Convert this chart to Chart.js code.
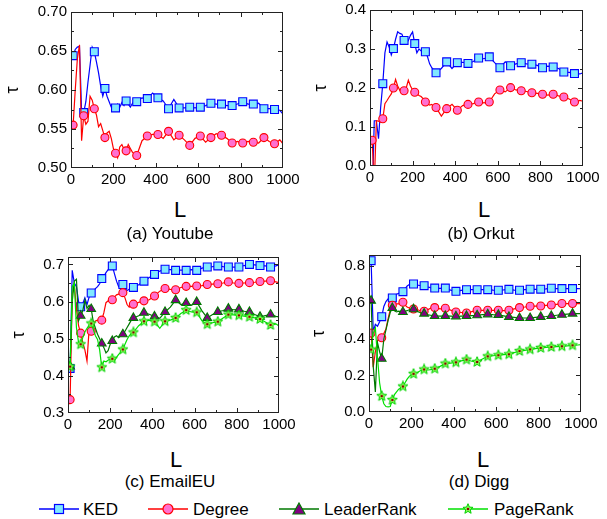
<!DOCTYPE html>
<html>
<head>
<meta charset="utf-8">
<script src="https://cdn.jsdelivr.net/npm/chart.js@4.4.1/dist/chart.umd.min.js"></script>
<style>
  body { margin: 0; background: #fff; width: 607px; height: 519px; position: relative; overflow: hidden;
         font-family: "Liberation Sans", Arial, sans-serif; color: #000; }
  canvas.panel { position: absolute; }
  .lbl { position: absolute; transform: translateX(-50%); white-space: nowrap; }
  .axL { font-size: 22px; line-height: 22px; }
  .cap { font-size: 17px; line-height: 17px; }
  .leg { position: absolute; font-size: 17px; line-height: 17px; top: 501px; white-space: nowrap; }
  canvas.legmark { position: absolute; top: 502px; }
</style>
</head>
<body>
<canvas id="chartA" class="panel" width="300" height="195" style="left:0;top:0"></canvas>
<canvas id="chartB" class="panel" width="307" height="193" style="left:300px;top:0"></canvas>
<canvas id="chartC" class="panel" width="300" height="200" style="left:0;top:240px"></canvas>
<canvas id="chartD" class="panel" width="307" height="199" style="left:300px;top:240px"></canvas>

<div class="lbl axL" style="left:180px;top:199px">L</div>
<div class="lbl cap" style="left:170px;top:225px">(a) Youtube</div>
<div class="lbl axL" style="left:484px;top:199px">L</div>
<div class="lbl cap" style="left:481px;top:225px">(b) Orkut</div>
<div class="lbl axL" style="left:176px;top:449px">L</div>
<div class="lbl cap" style="left:170px;top:473px">(c) EmailEU</div>
<div class="lbl axL" style="left:483px;top:449px">L</div>
<div class="lbl cap" style="left:479px;top:473px">(d) Digg</div>

<div id="legend"></div>

<script>
(function () {
    // L values (x axis), markers every 50 starting at 10
    const L = [10, 20, 30, 40, 50, 60, 70, 80, 90, 100,
               110, 120, 130, 140, 150, 160, 170, 180, 190, 200,
               210, 220, 230, 240, 250, 260, 270, 280, 290, 300,
               310, 335, 360, 385, 410, 435, 460, 485, 510, 535,
               560, 585, 610, 635, 660, 685, 710, 735, 760, 785,
               810, 835, 860, 885, 910, 935, 960, 985, 1000];

    const xTicks = [0, 200, 400, 600, 800, 1000];

    // (a) Youtube
    const youtubeKED = [0.644, 0.652, 0.655, 0.656, 0.572, 0.571, 0.585, 0.610, 0.632, 0.655,
                        0.649, 0.636, 0.622, 0.605, 0.592, 0.602, 0.592, 0.585, 0.578, 0.578,
                        0.577, 0.582, 0.578, 0.584, 0.580, 0.586, 0.582, 0.578, 0.583, 0.586,
                        0.585, 0.590, 0.589, 0.596, 0.590, 0.586, 0.576, 0.588, 0.577, 0.577,
                        0.578, 0.577, 0.578, 0.580, 0.583, 0.582, 0.582, 0.580, 0.580, 0.582,
                        0.585, 0.582, 0.582, 0.583, 0.576, 0.576, 0.575, 0.574, 0.569];
    const youtubeDegree = [0.555, 0.600, 0.640, 0.658, 0.535, 0.567, 0.556, 0.560, 0.592, 0.587,
                           0.576, 0.568, 0.553, 0.557, 0.548, 0.539, 0.545, 0.547, 0.538, 0.525,
                           0.519, 0.513, 0.527, 0.530, 0.524, 0.522, 0.530, 0.525, 0.520, 0.518,
                           0.516, 0.535, 0.541, 0.543, 0.543, 0.538, 0.547, 0.536, 0.542, 0.536,
                           0.529, 0.538, 0.541, 0.533, 0.539, 0.544, 0.542, 0.538, 0.532, 0.534,
                           0.532, 0.534, 0.533, 0.532, 0.539, 0.534, 0.531, 0.536, 0.531];
    const youtubeTicks = [0.50, 0.55, 0.60, 0.65, 0.70];

    // (b) Orkut
    const orkutKED = [-0.10, 0.116, 0.116, 0.070, 0.150, 0.211, 0.290, 0.318, 0.305, 0.285,
                      0.301, 0.325, 0.344, 0.340, 0.338, 0.322, 0.315, 0.322, 0.335, 0.344,
                      0.314, 0.290, 0.300, 0.295, 0.296, 0.293, 0.280, 0.262, 0.252, 0.245,
                      0.239, 0.250, 0.267, 0.250, 0.265, 0.266, 0.263, 0.268, 0.277, 0.275,
                      0.280, 0.265, 0.252, 0.267, 0.257, 0.262, 0.265, 0.262, 0.261, 0.258,
                      0.252, 0.256, 0.254, 0.250, 0.241, 0.240, 0.237, 0.236, 0.239];
    const orkutDegree = [0.066, -0.05, 0.116, 0.115, 0.112, 0.121, 0.160, 0.168, 0.177, 0.185,
                         0.200, 0.222, 0.205, 0.194, 0.200, 0.193, 0.200, 0.220, 0.205, 0.195,
                         0.189, 0.186, 0.181, 0.178, 0.172, 0.164, 0.160, 0.156, 0.158, 0.152,
                         0.150, 0.128, 0.147, 0.158, 0.143, 0.155, 0.158, 0.160, 0.164, 0.162,
                         0.164, 0.185, 0.195, 0.190, 0.201, 0.195, 0.193, 0.191, 0.188, 0.186,
                         0.184, 0.182, 0.184, 0.180, 0.177, 0.172, 0.164, 0.168, 0.166];
    const orkutTicks = [0.0, 0.1, 0.2, 0.3, 0.4];

    // (c) EmailEU
    const emailKED = [0.420, 0.684, 0.650, 0.640, 0.600, 0.586, 0.595, 0.610, 0.592, 0.612,
                      0.623, 0.625, 0.635, 0.640, 0.648, 0.662, 0.668, 0.678, 0.686, 0.690,
                      0.696, 0.675, 0.655, 0.640, 0.643, 0.646, 0.635, 0.630, 0.633, 0.636,
                      0.638, 0.645, 0.655, 0.665, 0.673, 0.682, 0.687, 0.686, 0.684, 0.685,
                      0.684, 0.686, 0.684, 0.690, 0.693, 0.694, 0.696, 0.694, 0.693, 0.693,
                      0.693, 0.697, 0.700, 0.699, 0.697, 0.696, 0.693, 0.696, 0.699];
    const emailDegree = [0.336, 0.620, 0.645, 0.580, 0.535, 0.515, 0.490, 0.470, 0.440, 0.525,
                         0.520, 0.540, 0.548, 0.550, 0.548, 0.550, 0.570, 0.597, 0.602, 0.603,
                         0.605, 0.612, 0.618, 0.620, 0.622, 0.624, 0.610, 0.592, 0.585, 0.590,
                         0.593, 0.598, 0.602, 0.605, 0.615, 0.628, 0.635, 0.633, 0.632, 0.638,
                         0.641, 0.641, 0.642, 0.643, 0.646, 0.647, 0.648, 0.650, 0.653, 0.650,
                         0.649, 0.650, 0.651, 0.652, 0.654, 0.655, 0.656, 0.653, 0.651];
    const emailLeader = [0.425, 0.600, 0.655, 0.660, 0.548, 0.562, 0.575, 0.604, 0.582, 0.590,
                         0.580, 0.545, 0.528, 0.512, 0.500, 0.487, 0.476, 0.462, 0.468, 0.485,
                         0.494, 0.505, 0.508, 0.503, 0.508, 0.512, 0.520, 0.530, 0.540, 0.550,
                         0.556, 0.562, 0.570, 0.566, 0.560, 0.555, 0.572, 0.585, 0.604, 0.592,
                         0.596, 0.590, 0.599, 0.575, 0.556, 0.565, 0.572, 0.576, 0.581, 0.578,
                         0.579, 0.574, 0.572, 0.565, 0.559, 0.562, 0.565, 0.560, 0.559];
    const emailPage = [0.425, 0.640, 0.650, 0.530, 0.490, 0.485, 0.503, 0.518, 0.528, 0.535,
                       0.541, 0.525, 0.508, 0.498, 0.470, 0.423, 0.440, 0.438, 0.442, 0.446,
                       0.446, 0.440, 0.450, 0.458, 0.463, 0.471, 0.485, 0.498, 0.508, 0.514,
                       0.517, 0.535, 0.547, 0.550, 0.546, 0.528, 0.547, 0.550, 0.556, 0.568,
                       0.577, 0.572, 0.571, 0.548, 0.539, 0.543, 0.546, 0.556, 0.565, 0.564,
                       0.563, 0.561, 0.559, 0.556, 0.553, 0.545, 0.537, 0.540, 0.534];
    const emailTicks = [0.3, 0.4, 0.5, 0.6, 0.7];

    // (d) Digg
    const diggKED = [0.829, 0.440, 0.480, 0.470, 0.495, 0.522, 0.578, 0.605, 0.620, 0.620,
                     0.625, 0.630, 0.645, 0.650, 0.652, 0.659, 0.675, 0.690, 0.698, 0.700,
                     0.701, 0.698, 0.695, 0.693, 0.692, 0.692, 0.688, 0.684, 0.681, 0.680,
                     0.679, 0.677, 0.679, 0.668, 0.661, 0.666, 0.670, 0.670, 0.670, 0.670,
                     0.670, 0.668, 0.667, 0.669, 0.672, 0.668, 0.667, 0.670, 0.673, 0.672,
                     0.673, 0.674, 0.678, 0.676, 0.676, 0.676, 0.676, 0.676, 0.675];
    const diggDegree = [0.433, 0.245, 0.330, 0.390, 0.400, 0.407, 0.430, 0.455, 0.510, 0.560,
                        0.585, 0.590, 0.592, 0.592, 0.595, 0.601, 0.585, 0.575, 0.570, 0.566,
                        0.564, 0.565, 0.560, 0.555, 0.552, 0.552, 0.558, 0.562, 0.568, 0.570,
                        0.572, 0.565, 0.568, 0.558, 0.548, 0.545, 0.542, 0.550, 0.557, 0.557,
                        0.557, 0.557, 0.557, 0.555, 0.557, 0.565, 0.572, 0.575, 0.579, 0.580,
                        0.581, 0.584, 0.586, 0.590, 0.594, 0.594, 0.594, 0.594, 0.594];
    const diggLeader = [0.610, 0.250, 0.110, 0.380, 0.330, 0.292, 0.400, 0.450, 0.500, 0.545,
                        0.570, 0.555, 0.548, 0.552, 0.550, 0.548, 0.552, 0.555, 0.560, 0.562,
                        0.563, 0.558, 0.550, 0.545, 0.542, 0.539, 0.535, 0.532, 0.530, 0.528,
                        0.526, 0.525, 0.526, 0.525, 0.524, 0.525, 0.526, 0.528, 0.530, 0.533,
                        0.535, 0.533, 0.532, 0.527, 0.521, 0.518, 0.515, 0.515, 0.515, 0.518,
                        0.521, 0.523, 0.526, 0.530, 0.533, 0.536, 0.539, 0.539, 0.539];
    const diggPage = [0.342, 0.430, 0.460, 0.300, 0.160, 0.087, 0.045, 0.030, 0.028, 0.030,
                      0.066, 0.095, 0.110, 0.125, 0.132, 0.140, 0.160, 0.180, 0.195, 0.205,
                      0.209, 0.212, 0.218, 0.225, 0.230, 0.233, 0.230, 0.230, 0.232, 0.235,
                      0.237, 0.250, 0.265, 0.268, 0.272, 0.280, 0.287, 0.278, 0.274, 0.290,
                      0.305, 0.308, 0.311, 0.314, 0.316, 0.325, 0.334, 0.338, 0.343, 0.347,
                      0.351, 0.354, 0.356, 0.358, 0.360, 0.362, 0.365, 0.367, 0.369];
    const diggTicks = [0.0, 0.2, 0.4, 0.6, 0.8];

    // star marker for PageRank (green star with dark red centre)
    function starImage(size) {
        const c = document.createElement('canvas');
        c.width = c.height = size;
        const g = c.getContext('2d');
        const cx = size / 2, cy = size / 2, R = size / 2 - 0.7, r = R * 0.45;
        g.beginPath();
        for (let k = 0; k < 10; k++) {
            const ang = -Math.PI / 2 + k * Math.PI / 5;
            const rr = k % 2 ? r : R;
            g.lineTo(cx + rr * Math.cos(ang), cy + rr * Math.sin(ang));
        }
        g.closePath();
        g.fillStyle = '#8cff5a';
        g.fill();
        g.strokeStyle = '#00d000';
        g.lineWidth = 1;
        g.stroke();
        g.beginPath();
        g.arc(cx, cy, 1.3, 0, 2 * Math.PI);
        g.fillStyle = '#8b0000';
        g.fill();
        return c;
    }
    const star = starImage(12);

    const styles = {
        KED:        { color: '#0000ff', fill: '#80e8ff', shape: 'rect', r: 5.6, order: 3 },
        Degree:     { color: '#ff0000', fill: '#ff70d0', shape: 'circle', r: 4, order: 2 },
        LeaderRank: { color: '#007800', fill: '#800080', shape: 'triangle', r: 5, order: 1 },
        PageRank:   { color: '#00e000', fill: '#8cff5a', shape: star, r: 4, order: 0 }
    };

    const isMarker = (c) => c.raw && c.raw.x % 50 === 10;

    function makeDataset(name, values) {
        const s = styles[name];
        return {
            label: name,
            data: L.map((x, i) => ({ x: x, y: values[i] })),
            borderColor: s.color,
            borderWidth: 1.2,
            backgroundColor: s.fill,
            pointBackgroundColor: s.fill,
            pointBorderColor: s.color,
            pointBorderWidth: 1.1,
            pointStyle: s.shape,
            pointRadius: (c) => isMarker(c) ? s.r : 0,
            tension: 0,
            fill: false,
            order: s.order
        };
    }

    // box frame with inward ticks (major + minor)
    const framePlugin = {
        id: 'frame',
        afterDatasetsDraw(chart) {
            const { ctx, chartArea: a, scales } = chart;
            ctx.save();
            ctx.strokeStyle = '#222';
            ctx.lineWidth = 1;
            ctx.strokeRect(Math.round(a.left) + 0.5, Math.round(a.top) + 0.5,
                Math.round(a.right - a.left) - 1, Math.round(a.bottom - a.top) - 1);
            const marks = (scale) => {
                const vals = scale.ticks.map(t => t.value);
                const out = vals.map(v => ({ v: v, len: 5 }));
                for (let i = 0; i < vals.length - 1; i++) out.push({ v: (vals[i] + vals[i + 1]) / 2, len: 3 });
                return out;
            };
            ctx.beginPath();
            marks(scales.x).forEach(m => {
                const px = Math.round(scales.x.getPixelForValue(m.v)) + 0.5;
                if (px < a.left || px > a.right) return;
                ctx.moveTo(px, a.bottom); ctx.lineTo(px, a.bottom - m.len);
                ctx.moveTo(px, a.top); ctx.lineTo(px, a.top + m.len);
            });
            marks(scales.y).forEach(m => {
                const py = Math.round(scales.y.getPixelForValue(m.v)) + 0.5;
                if (py < a.top || py > a.bottom) return;
                ctx.moveTo(a.left, py); ctx.lineTo(a.left + m.len, py);
                ctx.moveTo(a.right, py); ctx.lineTo(a.right - m.len, py);
            });
            ctx.stroke();
            ctx.restore();
        }
    };

    function makePanel(id, datasets, p) {
        new Chart(document.getElementById(id).getContext('2d'), {
            type: 'line',
            data: { datasets: datasets },
            plugins: [framePlugin],
            options: {
                responsive: false,
                animation: false,
                devicePixelRatio: 1,
                events: [],
                layout: { padding: { left: 0, top: p.top, right: p.right, bottom: 0 } },
                plugins: { legend: { display: false }, tooltip: { enabled: false } },
                scales: {
                    x: {
                        type: 'linear', min: 0, max: 1000,
                        afterBuildTicks: (s) => { s.ticks = xTicks.map(v => ({ value: v })); },
                        afterFit: (s) => { s.height = 27; s.paddingLeft = 0; s.paddingRight = 0; },
                        grid: { display: false, drawTicks: false },
                        border: { display: false },
                        ticks: {
                            color: '#000', padding: 3, maxRotation: 0,
                            font: { family: 'Liberation Sans', size: 15 },
                            callback: (v) => String(v)
                        }
                    },
                    y: {
                        type: 'linear', min: p.min, max: p.max,
                        afterBuildTicks: (s) => { s.ticks = p.ticks.map(v => ({ value: v })); },
                        afterFit: (s) => { s.width = p.yWidth; s.paddingTop = 0; s.paddingBottom = 0; },
                        grid: { display: false, drawTicks: false },
                        border: { display: false },
                        ticks: {
                            color: '#000', padding: 4,
                            font: { family: 'Liberation Sans', size: 15 },
                            callback: (v) => Number(v).toFixed(p.dec)
                        },
                        title: {
                            display: true, text: 'τ', color: '#000',
                            font: { family: 'Liberation Sans', size: 18 },
                            padding: { top: p.titlePad, bottom: 0 }
                        }
                    }
                }
            }
        });
    }

    makePanel('chartA', [makeDataset('KED', youtubeKED), makeDataset('Degree', youtubeDegree)],
        { min: 0.50, max: 0.70, ticks: youtubeTicks, dec: 2, yWidth: 71, top: 12, right: 17, titlePad: 2 });
    makePanel('chartB', [makeDataset('KED', orkutKED), makeDataset('Degree', orkutDegree)],
        { min: 0, max: 0.4, ticks: orkutTicks, dec: 1, yWidth: 70, top: 10, right: 24, titlePad: 10 });
    makePanel('chartC', [makeDataset('KED', emailKED), makeDataset('Degree', emailDegree),
                         makeDataset('LeaderRank', emailLeader), makeDataset('PageRank', emailPage)],
        { min: 0.3, max: 0.72, ticks: emailTicks, dec: 1, yWidth: 68, top: 17, right: 21, titlePad: 8 });
    makePanel('chartD', [makeDataset('KED', diggKED), makeDataset('Degree', diggDegree),
                         makeDataset('LeaderRank', diggLeader), makeDataset('PageRank', diggPage)],
        { min: 0, max: 0.86, ticks: diggTicks, dec: 1, yWidth: 69, top: 15, right: 26, titlePad: 8 });

    // shared legend at the bottom
    const legendItems = [
        { name: 'KED', lineX: 39, textX: 83 },
        { name: 'Degree', lineX: 148, textX: 193 },
        { name: 'LeaderRank', lineX: 279, textX: 324 },
        { name: 'PageRank', lineX: 448, textX: 494 }
    ];
    const legend = document.getElementById('legend');
    legendItems.forEach(item => {
        const s = styles[item.name];
        const c = document.createElement('canvas');
        c.className = 'legmark';
        c.width = 44; c.height = 14;
        c.style.left = (item.lineX - 2) + 'px';
        const g = c.getContext('2d');
        g.strokeStyle = s.color;
        g.lineWidth = 1.5;
        g.beginPath(); g.moveTo(2, 7); g.lineTo(42, 7); g.stroke();
        g.fillStyle = s.fill;
        g.lineWidth = 1.2;
        if (s.shape === 'rect') {
            g.fillRect(17, 2, 10, 10); g.strokeRect(17.5, 2.5, 9, 9);
        } else if (s.shape === 'circle') {
            g.beginPath(); g.arc(22, 7, 5, 0, 2 * Math.PI); g.fill(); g.stroke();
        } else if (s.shape === 'triangle') {
            g.beginPath(); g.moveTo(22, 1); g.lineTo(28, 12); g.lineTo(16, 12); g.closePath(); g.fill(); g.stroke();
        } else {
            g.drawImage(star, 22 - star.width / 2, 7 - star.height / 2);
        }
        legend.appendChild(c);
        const t = document.createElement('div');
        t.className = 'leg';
        t.style.left = item.textX + 'px';
        t.textContent = item.name;
        legend.appendChild(t);
    });
})();
</script>
</body>
</html>
